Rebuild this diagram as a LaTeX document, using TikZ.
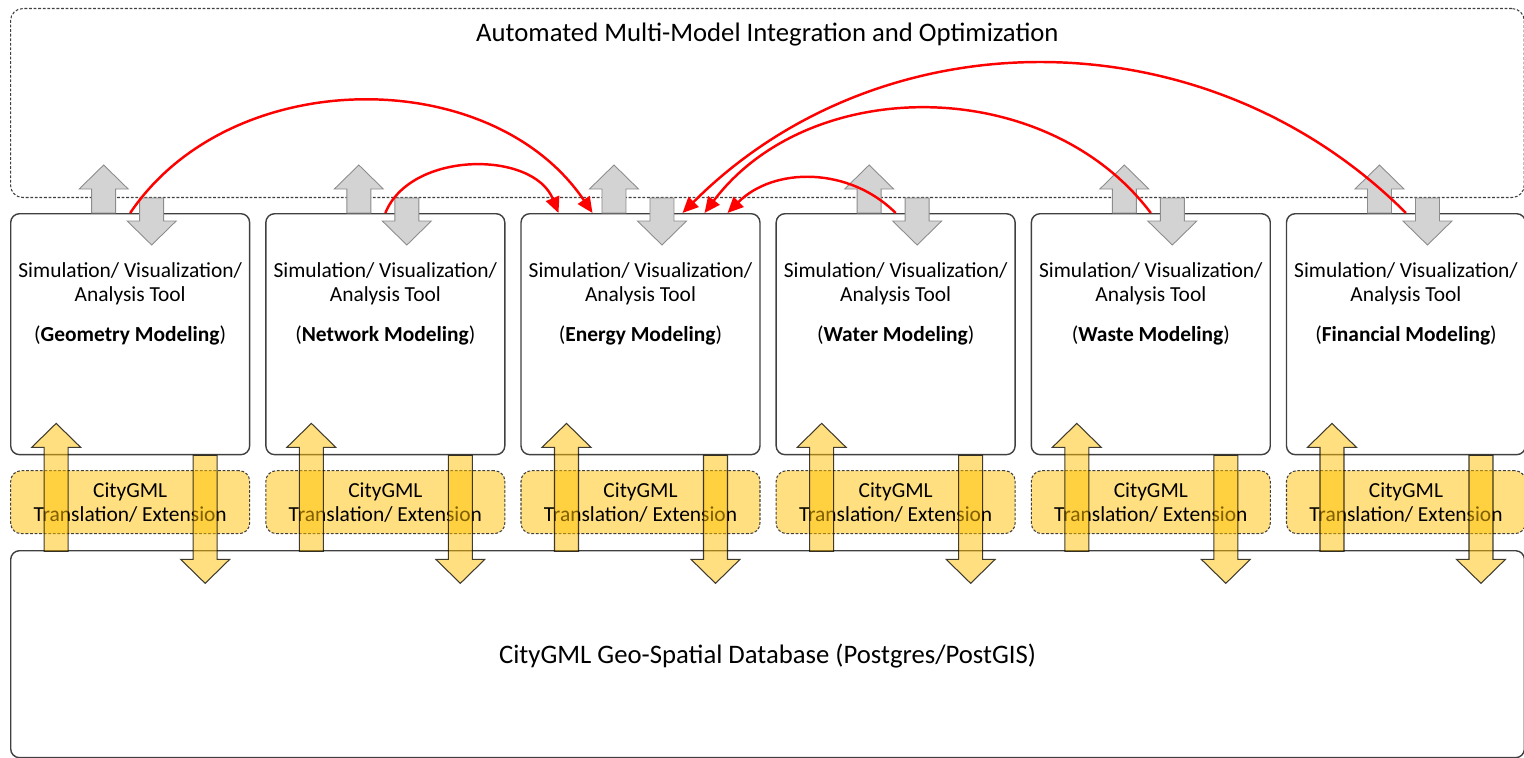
\documentclass[tikz,border=0pt]{standalone}
\usepackage{fontspec}
\setmainfont{Carlito}
\usetikzlibrary{arrows.meta,positioning,calc}
\definecolor{ink}{HTML}{404040}
\definecolor{amber}{HTML}{FFC000}
\definecolor{steel}{HTML}{D3D3D3}
\definecolor{rim}{HTML}{8C8C8C}
\definecolor{flow}{HTML}{FF0000}
\tikzset{
  frame/.style={draw=ink, line width=0.8pt, rounded corners=5pt},
  tool/.style={frame, fill=white, anchor=north west, minimum width=4.78cm,
               minimum height=4.82cm, inner sep=0pt},
  tooltxt/.style={align=center, inner sep=0pt, font=\fontsize{12.2}{13.6}\selectfont},
  gml/.style={draw=ink, dash pattern=on 1.6pt off 1pt, line width=0.6pt,
              fill=amber, fill opacity=0.5, text opacity=1, rounded corners=6pt,
              anchor=north, minimum width=4.78cm, minimum height=1.26cm, inner sep=0pt,
              align=center, font=\fontsize{12.2}{13.6}\selectfont},
  bigtxt/.style={inner sep=0pt, font=\fontsize{15.2}{18}\selectfont},
  link/.style={-{Triangle[length=9pt,width=8pt]}, draw=flow, line width=1.4pt},
  % block arrows, drawn from their base
  yellowblk/.style={fill=amber, fill opacity=0.5, draw=black, draw opacity=0.75, line width=0.6pt},
  greyblk/.style={fill=steel, draw=rim, line width=0.5pt},
  pics/blockup/.style args={#1 and #2}{code={
    \filldraw[#2] (-12,0) -- (-12,{-#1+24}) -- (-24.5,{-#1+24}) -- (0,-#1)
      -- (24.5,{-#1+24}) -- (12,{-#1+24}) -- (12,0) -- cycle;}},
  pics/blockdown/.style args={#1 and #2}{code={
    \filldraw[#2] (-12,0) -- (-12,{#1-24}) -- (-24.5,{#1-24}) -- (0,#1)
      -- (24.5,{#1-24}) -- (12,{#1-24}) -- (12,0) -- cycle;}},
}

\begin{document}
\begin{tikzpicture}[x=0.02cm, y=-0.02cm]
  \useasboundingbox (0,0) rectangle (1524,757);

  % integration layer
  \node[frame, dash pattern=on 1.6pt off 1pt, line width=0.6pt, rounded corners=7pt,
        anchor=north west, minimum width=30.28cm, minimum height=3.78cm] (orch) at (10,8) {};
  \node[bigtxt] (orchtxt) at ($(orch.north)+(0,27)$) {Automated Multi-Model Integration and Optimization};

  % modeling tools
  \node[tool] (geo) at (10,213) {};
  \node[tool, right=0.296cm of geo] (net) {};
  \node[tool, right=0.296cm of net] (nrg) {};
  \node[tool, right=0.296cm of nrg] (wat) {};
  \node[tool, right=0.296cm of wat] (wst) {};
  \node[tool, right=0.296cm of wst] (fin) {};

  \node[tooltxt] (geotxt) at ($(geo.north)+(0,91)$) {Simulation/ Visualization/\\ Analysis Tool\\[9.6pt] (\textbf{Geometry Modeling})};
  \node[tooltxt] (nettxt) at ($(net.north)+(0,91)$) {Simulation/ Visualization/\\ Analysis Tool\\[9.6pt] (\textbf{Network Modeling})};
  \node[tooltxt] (nrgtxt) at ($(nrg.north)+(0,91)$) {Simulation/ Visualization/\\ Analysis Tool\\[9.6pt] (\textbf{Energy Modeling})};
  \node[tooltxt] (wattxt) at ($(wat.north)+(0,91)$) {Simulation/ Visualization/\\ Analysis Tool\\[9.6pt] (\textbf{Water Modeling})};
  \node[tooltxt] (wsttxt) at ($(wst.north)+(0,91)$) {Simulation/ Visualization/\\ Analysis Tool\\[9.6pt] (\textbf{Waste Modeling})};
  \node[tooltxt] (fintxt) at ($(fin.north)+(0,91)$) {Simulation/ Visualization/\\ Analysis Tool\\[9.6pt] (\textbf{Financial Modeling})};

  % CityGML translation layer
  \node[gml, below=0.296cm of geo] (geogml) {CityGML\\ Translation/ Extension};
  \node[gml, below=0.296cm of net] (netgml) {CityGML\\ Translation/ Extension};
  \node[gml, below=0.296cm of nrg] (nrggml) {CityGML\\ Translation/ Extension};
  \node[gml, below=0.296cm of wat] (watgml) {CityGML\\ Translation/ Extension};
  \node[gml, below=0.296cm of wst] (wstgml) {CityGML\\ Translation/ Extension};
  \node[gml, below=0.296cm of fin] (fingml) {CityGML\\ Translation/ Extension};

  % database
  \node[frame, anchor=north west, minimum width=30.28cm, minimum height=4.14cm] (db) at (10,550) {};
  \node[bigtxt] (dbtxt) at ($(db.center)+(0,2)$) {CityGML Geo-Spatial Database (Postgres/PostGIS)};

  % exchange with the database
  \foreach \t in {geo,net,nrg,wat,wst,fin}{
    \pic at ($(\t.south)+(-74,96)$) {blockup={128 and yellowblk}};
    \pic at ($(\t.south)+(75,0)$) {blockdown={128 and yellowblk}};
    \pic at ($(\t.north)+(-26.5,0)$) {blockup={48 and greyblk}};
    \pic at ($(\t.north)+(21.5,-15)$) {blockdown={47 and greyblk}};
  }

  % model coupling into the energy tool
  \coordinate (nrgA) at ($(nrg.north)+(-82,0)$);
  \coordinate (nrgB) at ($(nrg.north)+(-48,0)$);
  \coordinate (nrgC) at ($(nrg.north)+(42,0)$);
  \coordinate (nrgD) at ($(nrg.north)+(64,0)$);
  \coordinate (nrgE) at ($(nrg.north)+(87,0)$);
  \draw[link] (geo.north) to[bend left=56] (nrgB);
  \draw[link] (net.north) to[bend left=68] (nrgA);
  \draw[link] (wat.north) to[bend right=45] (nrgE);
  \draw[link] (wst.north) to[bend right=53] (nrgD);
  \draw[link] (fin.north) to[bend right=45] (nrgC);
\end{tikzpicture}
\end{document}
